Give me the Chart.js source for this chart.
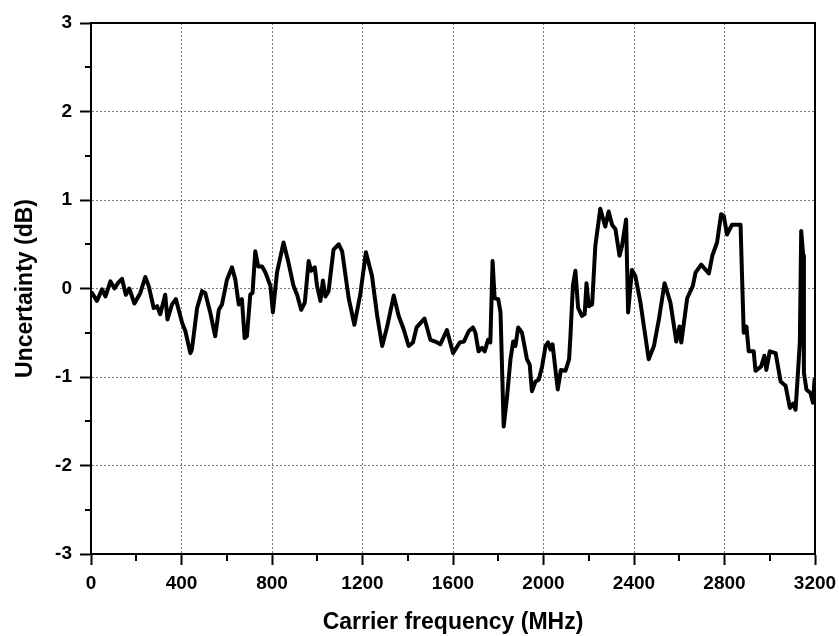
<!DOCTYPE html>
<html>
<head>
<meta charset="utf-8">
<script src="https://cdn.jsdelivr.net/npm/chart.js@4/dist/chart.umd.min.js"></script>
<style>
  html, body { margin: 0; padding: 0; background: #ffffff; }
  #wrap { width: 839px; height: 636px; }
</style>
</head>
<body>
<div id="wrap"><canvas id="c" width="839" height="636"></canvas></div>
<script>
// Carrier frequency (MHz)
const freq = [4,26,49,64,86,104,119,137,154,169,192,218,240,255,277,292,306,328,338,358,375,403,417,439,446,469,476,491,505,527,549,565,579,601,623,638,653,667,679,689,704,714,726,739,756,771,793,804,822,851,873,895,911,929,945,962,973,989,999,1014,1025,1036,1050,1072,1095,1110,1139,1164,1190,1215,1242,1265,1287,1309,1338,1360,1382,1404,1423,1439,1474,1500,1522,1544,1573,1600,1630,1648,1670,1688,1699,1713,1728,1740,1755,1765,1775,1784,1800,1810,1824,1839,1854,1866,1876,1888,1905,1927,1939,1949,1965,1979,1994,2009,2020,2031,2040,2053,2063,2077,2097,2113,2119,2130,2141,2153,2170,2182,2190,2200,2215,2229,2251,2273,2288,2303,2318,2336,2347,2365,2374,2391,2406,2428,2465,2488,2510,2535,2561,2587,2601,2609,2635,2660,2672,2697,2731,2746,2767,2785,2797,2811,2833,2871,2878,2885,2897,2907,2929,2937,2962,2976,2985,3000,3026,3048,3070,3089,3104,3114,3121,3133,3139,3148,3151,3162,3180,3191,3198];
// Uncertainty (dB)
const uncertainty = [-0.05,-0.14,-0.01,-0.09,0.08,0.0,0.06,0.11,-0.07,0.0,-0.17,-0.05,0.13,0.03,-0.22,-0.2,-0.29,-0.07,-0.35,-0.18,-0.12,-0.39,-0.48,-0.73,-0.69,-0.22,-0.16,-0.03,-0.05,-0.27,-0.54,-0.24,-0.18,0.10,0.24,0.10,-0.18,-0.12,-0.56,-0.54,-0.07,-0.05,0.42,0.25,0.25,0.18,0.03,-0.27,0.18,0.52,0.29,0.03,-0.07,-0.24,-0.16,0.31,0.2,0.24,0.03,-0.14,0.09,-0.09,-0.03,0.44,0.50,0.42,-0.11,-0.41,-0.07,0.41,0.14,-0.31,-0.65,-0.43,-0.08,-0.31,-0.46,-0.65,-0.61,-0.44,-0.34,-0.58,-0.60,-0.63,-0.47,-0.73,-0.61,-0.60,-0.48,-0.44,-0.50,-0.71,-0.67,-0.71,-0.58,-0.61,0.31,-0.11,-0.12,-0.27,-1.56,-1.22,-0.80,-0.60,-0.65,-0.44,-0.50,-0.80,-0.86,-1.16,-1.05,-1.03,-0.88,-0.65,-0.61,-0.69,-0.63,-0.92,-1.14,-0.92,-0.93,-0.80,-0.54,0.03,0.20,-0.22,-0.31,-0.29,0.06,-0.20,-0.18,0.48,0.90,0.70,0.87,0.72,0.67,0.37,0.48,0.78,-0.27,0.21,0.14,-0.15,-0.80,-0.65,-0.35,0.06,-0.16,-0.60,-0.43,-0.61,-0.11,0.03,0.18,0.27,0.17,0.37,0.52,0.84,0.82,0.61,0.72,0.72,0.10,-0.50,-0.43,-0.71,-0.71,-0.93,-0.88,-0.76,-0.92,-0.71,-0.73,-1.05,-1.10,-1.35,-1.30,-1.37,-1.10,-0.61,0.65,0.37,-0.95,-1.14,-1.18,-1.29,-1.03];
// Tick labels
const xMajorTicks = [0,400,800,1200,1600,2000,2400,2800,3200];
const yMajorTicks = [-3,-2,-1,0,1,2,3];
const xMinorTicks = [200,600,1000,1400,1800,2200,2600,3000];
const yMinorTicks = [-2.5,-1.5,-0.5,0.5,1.5,2.5];

const points = freq.map((f, i) => ({ x: f, y: uncertainty[i] }));

const FONT = "'Liberation Sans', Arial, sans-serif";

const framePlugin = {
  id: 'frame',
  afterDraw(chart) {
    const { ctx, chartArea: a, scales } = chart;
    ctx.save();
    ctx.strokeStyle = '#000';
    ctx.lineWidth = 2;
    ctx.beginPath();
    ctx.moveTo(a.left, a.top);
    ctx.lineTo(a.right, a.top);
    ctx.lineTo(a.right, a.bottom);
    ctx.stroke();
    ctx.beginPath();
    yMinorTicks.forEach(v => {
      const py = Math.round(scales.y.getPixelForValue(v));
      ctx.moveTo(a.left - 6, py);
      ctx.lineTo(a.left, py);
    });
    xMinorTicks.forEach(v => {
      const px = Math.round(scales.x.getPixelForValue(v));
      ctx.moveTo(px, a.bottom);
      ctx.lineTo(px, a.bottom + 7);
    });
    ctx.stroke();
    ctx.restore();
  }
};

new Chart(document.getElementById('c'), {
  type: 'line',
  data: {
    datasets: [{
      data: points,
      borderColor: '#000000',
      borderWidth: 4,
      borderJoinStyle: 'round',
      borderCapStyle: 'round',
      pointRadius: 0,
      tension: 0,
      fill: false
    }]
  },
  options: {
    responsive: false,
    animation: false,
    devicePixelRatio: 1,
    layout: { padding: { top: 23, right: 24, left: 0, bottom: 0 } },
    plugins: { legend: { display: false }, tooltip: { enabled: false } },
    scales: {
      x: {
        type: 'linear',
        min: 0, max: 3200,
        afterFit: s => { s.height = 82; s.paddingLeft = 0; s.paddingRight = 0; },
        afterBuildTicks: s => { s.ticks = xMajorTicks.map(v => ({ value: v })); },
        ticks: {
          autoSkip: false,
          maxRotation: 0,
          padding: 7,
          color: '#000',
          callback: v => String(v),
          font: { family: FONT, size: 19, weight: 'bold' }
        },
        grid: {
          color: c => (c.tick && c.tick.value > 0 && c.tick.value < 3200) ? '#7a7a7a' : 'rgba(0,0,0,0)',
          lineWidth: 1,
          tickColor: '#000',
          tickLength: 11,
          tickWidth: 2
        },
        border: { display: true, color: '#000', width: 2, dash: [2, 2] },
        title: {
          display: true,
          text: 'Carrier frequency (MHz)',
          color: '#000',
          font: { family: FONT, size: 23, weight: 'bold' },
          padding: { top: 0, bottom: 0 }
        }
      },
      y: {
        type: 'linear',
        min: -3, max: 3,
        afterFit: s => { s.width = 91; s.paddingTop = 0; s.paddingBottom = 0; },
        afterBuildTicks: s => { s.ticks = yMajorTicks.map(v => ({ value: v })); },
        ticks: {
          padding: 8,
          color: '#000',
          callback: v => String(v),
          font: { family: FONT, size: 19, weight: 'bold' }
        },
        grid: {
          color: c => (c.tick && c.tick.value > -3 && c.tick.value < 3) ? '#7a7a7a' : 'rgba(0,0,0,0)',
          lineWidth: 1,
          tickColor: '#000',
          tickLength: 11,
          tickWidth: 2
        },
        border: { display: true, color: '#000', width: 2, dash: [2, 2] },
        title: {
          display: true,
          text: 'Uncertainty (dB)',
          color: '#000',
          font: { family: FONT, size: 23, weight: 'bold' },
          padding: { top: 12, bottom: 0 }
        }
      }
    }
  },
  plugins: [framePlugin]
});
</script>
</body>
</html>
